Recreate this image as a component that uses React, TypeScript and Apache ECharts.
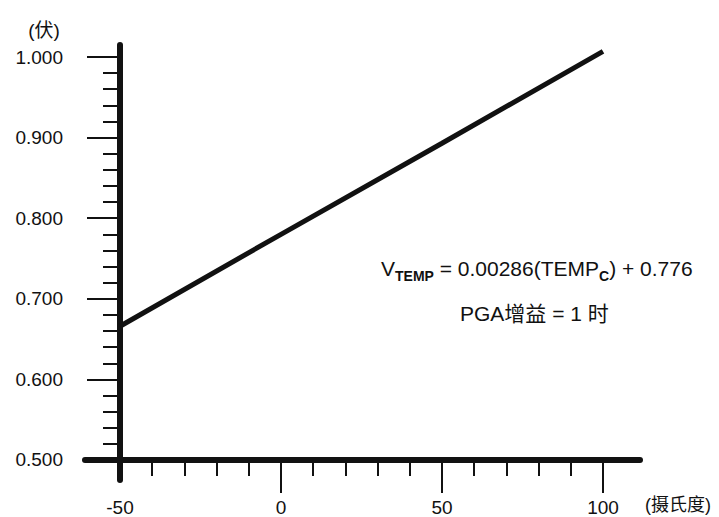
import { useEffect, useRef } from 'react';
import * as echarts from 'echarts';

// Data
const temperatureC = [-50, 0, 50, 100];
const voltage = [0.666, 0.78, 0.893, 1.007];
const xAxisTitle = '(摄氏度)';
const yAxisTitle = '(伏)';
const gainText = 'PGA增益 = 1 时';
const formulaParts = ['V', 'TEMP', ' = 0.00286(TEMP', 'C', ') + 0.776'];

const FONT = '"Liberation Sans", Arial, "Noto Sans CJK SC", sans-serif';
const INK = '#111';

export default function App() {
  const ref = useRef<HTMLDivElement>(null);
  useEffect(() => {
    if (!ref.current) return;
    const chart = echarts.init(ref.current, undefined, { renderer: 'svg' });
    const seriesData = temperatureC.map((t, i) => [t, voltage[i]]);
    const option: any = {
      animation: false,
      backgroundColor: '#fff',
      textStyle: { fontFamily: FONT },
      grid: [
        { left: 120, right: 116, top: 57, bottom: 57 },
        { left: 85, right: 79, top: 57, bottom: 57 },
        { left: 120, width: 1, top: 45, bottom: 37 },
      ],
      xAxis: [
        {
          gridIndex: 0,
          type: 'value',
          min: -50,
          max: 100,
          interval: 50,
          axisLine: { show: false, onZero: false },
          splitLine: { show: false },
          axisTick: { show: true, length: 33, lineStyle: { color: INK, width: 2 }, customValues: [0, 50, 100] },
          minorTick: { show: true, splitNumber: 5, length: 16, lineStyle: { color: INK, width: 2 } },
          axisLabel: { color: INK, fontSize: 19, margin: 38, fontFamily: FONT },
        },
        {
          gridIndex: 1,
          type: 'value',
          min: 0,
          max: 1,
          axisLine: { show: true, onZero: false, lineStyle: { color: INK, width: 6 } },
          axisTick: { show: false },
          axisLabel: { show: false },
          splitLine: { show: false },
        },
        {
          gridIndex: 2,
          type: 'value',
          min: 0,
          max: 1,
          show: false,
        },
      ],
      yAxis: [
        {
          gridIndex: 0,
          type: 'value',
          min: 0.5,
          max: 1.0,
          interval: 0.1,
          axisLine: { show: false, onZero: false },
          splitLine: { show: false },
          axisTick: { show: true, length: 33, lineStyle: { color: INK, width: 2 } },
          minorTick: { show: true, splitNumber: 5, length: 17, lineStyle: { color: INK, width: 2 } },
          axisLabel: {
            color: INK,
            fontSize: 19,
            margin: 57,
            fontFamily: FONT,
            formatter: (v: number) => v.toFixed(3),
          },
        },
        {
          gridIndex: 1,
          type: 'value',
          min: 0,
          max: 1,
          show: false,
        },
        {
          gridIndex: 2,
          type: 'value',
          min: 0,
          max: 1,
          axisLine: { show: true, onZero: false, lineStyle: { color: INK, width: 6 } },
          axisTick: { show: false },
          axisLabel: { show: false },
          splitLine: { show: false },
        },
      ],
      series: [
        {
          type: 'line',
          xAxisIndex: 0,
          yAxisIndex: 0,
          data: seriesData,
          symbol: 'none',
          clip: false,
          lineStyle: { color: INK, width: 5 },
        },
      ],
      graphic: [
        {
          type: 'text',
          x: 44,
          y: 30,
          style: { text: yAxisTitle, fill: INK, font: `19px ${FONT}`, align: 'center', verticalAlign: 'middle' },
        },
        {
          type: 'text',
          x: 678,
          y: 505,
          style: { text: xAxisTitle, fill: INK, font: `18px ${FONT}`, align: 'center', verticalAlign: 'middle' },
        },
        {
          type: 'text',
          x: 381,
          y: 258,
          style: {
            text:
              `{m|${formulaParts[0]}}{s|${formulaParts[1]}}{m|${formulaParts[2]}}{s|${formulaParts[3]}}{m|${formulaParts[4]}}`,
            align: 'left',
            verticalAlign: 'top',
            rich: {
              m: { fontSize: 21, fontFamily: FONT, fill: INK, color: INK, lineHeight: 21, verticalAlign: 'top' },
              s: { fontSize: 14, fontWeight: 'bold', fontFamily: FONT, fill: INK, color: INK, lineHeight: 14, padding: [11, 0, 0, 0], verticalAlign: 'top' },
            },
          },
        },
        {
          type: 'text',
          x: 460,
          y: 313,
          style: { text: gainText, fill: INK, font: `21px ${FONT}`, align: 'left', verticalAlign: 'middle' },
        },
      ],
    };
    chart.setOption(option);
    return () => chart.dispose();
  }, []);
  return (
    <div
      ref={ref}
      style={{ position: 'fixed', left: 0, top: 0, width: 719, height: 517, background: '#fff' }}
    />
  );
}
